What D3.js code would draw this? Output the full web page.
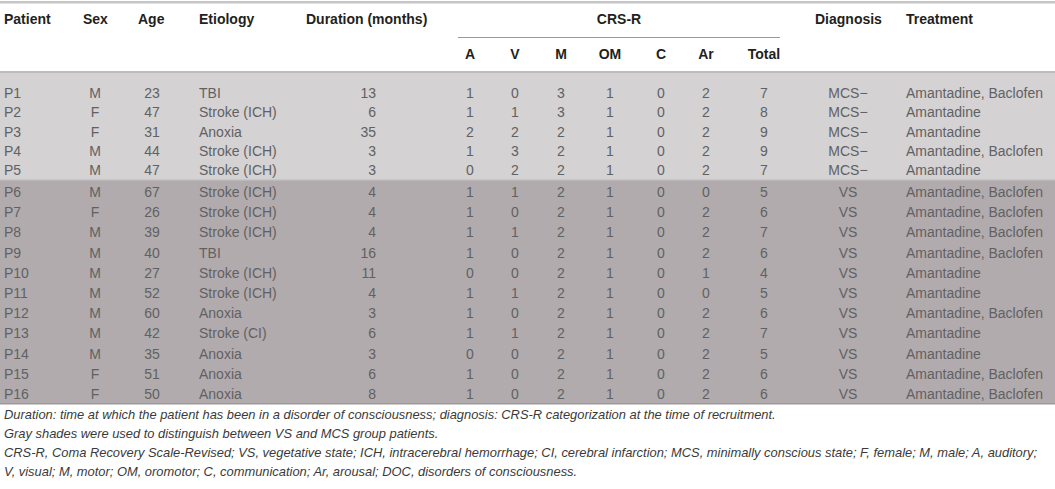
<!DOCTYPE html>
<html>
<head>
<meta charset="utf-8">
<script src="https://cdn.jsdelivr.net/npm/d3@7"></script>
<style>
  body { margin: 0; background: #fff; }
  svg text { font-family: "Liberation Sans", Arial, sans-serif; }
</style>
</head>
<body>
<div id="chart"></div>
<script>
const patients = ["P1","P2","P3","P4","P5","P6","P7","P8","P9","P10","P11","P12","P13","P14","P15","P16"];
const sex = ["M","F","F","M","M","M","F","M","M","M","M","M","M","M","F","F"];
const age = [23,47,31,44,47,67,26,39,40,27,52,60,42,35,51,50];
const etiology = ["TBI","Stroke (ICH)","Anoxia","Stroke (ICH)","Stroke (ICH)","Stroke (ICH)","Stroke (ICH)","Stroke (ICH)","TBI","Stroke (ICH)","Stroke (ICH)","Anoxia","Stroke (CI)","Anoxia","Anoxia","Anoxia"];
const duration = [13,6,35,3,3,4,4,4,16,11,4,3,6,3,6,8];
const crsA  = [1,1,2,1,0,1,1,1,1,0,1,1,1,0,1,1];
const crsV  = [0,1,2,3,2,1,0,1,0,0,1,0,1,0,0,0];
const crsM  = [3,3,2,2,2,2,2,2,2,2,2,2,2,2,2,2];
const crsOM = [1,1,1,1,1,1,1,1,1,1,1,1,1,1,1,1];
const crsC  = [0,0,0,0,0,0,0,0,0,0,0,0,0,0,0,0];
const crsAr = [2,2,2,2,2,0,2,2,2,1,0,2,2,2,2,2];
const total = [7,8,9,9,7,5,6,7,6,4,5,6,7,5,6,6];
const diagnosis = ["MCS\u2212","MCS\u2212","MCS\u2212","MCS\u2212","MCS\u2212","VS","VS","VS","VS","VS","VS","VS","VS","VS","VS","VS"];
const treatment = ["Amantadine, Baclofen","Amantadine","Amantadine","Amantadine, Baclofen","Amantadine","Amantadine, Baclofen","Amantadine, Baclofen","Amantadine, Baclofen","Amantadine, Baclofen","Amantadine","Amantadine","Amantadine, Baclofen","Amantadine","Amantadine","Amantadine, Baclofen","Amantadine, Baclofen"];
const footnotes = [
  "Duration: time at which the patient has been in a disorder of consciousness; diagnosis: CRS-R categorization at the time of recruitment.",
  "Gray shades were used to distinguish between VS and MCS group patients.",
  "CRS-R, Coma Recovery Scale-Revised; VS, vegetative state; ICH, intracerebral hemorrhage; CI, cerebral infarction; MCS, minimally conscious state; F, female; M, male; A, auditory;",
  "V, visual; M, motor; OM, oromotor; C, communication; Ar, arousal; DOC, disorders of consciousness."
];

const width = 1055, height = 489;

const svg = d3.select("#chart").append("svg")
    .attr("width", width)
    .attr("height", height);

// columns: header label, values, x position, anchor
const columns = [
  {head: "Patient", values: patients, x: 4, anchor: "start", hx: 4},
  {head: "Sex", values: sex, x: 95, anchor: "middle", hx: 83},
  {head: "Age", values: age, x: 152, anchor: "middle", hx: 138},
  {head: "Etiology", values: etiology, x: 199, anchor: "start", hx: 199},
  {head: "Duration (months)", values: duration, x: 376, anchor: "end", hx: 306},
  {head: "Diagnosis", values: diagnosis, x: 848, anchor: "middle", hx: 815},
  {head: "Treatment", values: treatment, x: 906, anchor: "start", hx: 906}
];
const crsCols = [
  {head: "A", values: crsA, x: 470},
  {head: "V", values: crsV, x: 515},
  {head: "M", values: crsM, x: 561},
  {head: "OM", values: crsOM, x: 610},
  {head: "C", values: crsC, x: 661},
  {head: "Ar", values: crsAr, x: 706},
  {head: "Total", values: total, x: 764}
];

// row positions: MCS block and VS block
const isMCS = d => diagnosis[d].startsWith("MCS");
const idx = d3.range(patients.length);
const mcsIdx = idx.filter(isMCS), vsIdx = idx.filter(d => !isMCS(d));
const yMCS = d3.scalePoint().domain(mcsIdx).range([93, 170]);
const yVS = d3.scalePoint().domain(vsIdx).range([192, 394]);
const y = i => isMCS(i) ? yMCS(i) : yVS(i);

// bands
svg.append("rect").attr("x", 0).attr("y", 73).attr("width", width).attr("height", 107).attr("fill", "#d4d2d3");
svg.append("rect").attr("x", 0).attr("y", 180).attr("width", width).attr("height", 224).attr("fill", "#b1abad");

// rules
svg.append("rect").attr("x", 0).attr("y", 1).attr("width", width).attr("height", 2.5).attr("fill", "#c6c6c6");
svg.append("rect").attr("x", 0).attr("y", 71).attr("width", width).attr("height", 2).attr("fill", "#bdbdbd");
svg.append("rect").attr("x", 0).attr("y", 179).attr("width", width).attr("height", 1.5).attr("fill", "#c8c6c7");
svg.append("rect").attr("x", 0).attr("y", 403).attr("width", width).attr("height", 1.5).attr("fill", "#9a9a9a");
svg.append("line").attr("x1", 458).attr("x2", 780).attr("y1", 37.5).attr("y2", 37.5)
    .attr("stroke", "#9a9a9a").attr("stroke-width", 1);

// headers
const head = svg.append("g").attr("font-weight", "bold").attr("font-size", 14).attr("fill", "#231f20");
head.selectAll("text.h1").data(columns).join("text")
    .attr("x", d => d.hx).attr("y", 24)
    .text(d => d.head);
head.append("text").attr("x", (458 + 780) / 2).attr("y", 24).attr("text-anchor", "middle").text("CRS-R");
head.selectAll("text.h2").data(crsCols).join("text")
    .attr("x", d => d.x).attr("y", 59)
    .attr("text-anchor", "middle")
    .text(d => d.head);

// body cells
const body = svg.append("g").attr("font-size", 14).attr("fill", "#616163");
columns.concat(crsCols.map(c => ({...c, anchor: "middle"}))).forEach(col => {
  body.append("g").selectAll("text").data(col.values).join("text")
      .attr("x", col.x)
      .attr("y", (d, i) => y(i))
      .attr("dy", "0.36em")
      .attr("text-anchor", col.anchor)
      .text(d => d);
});

// footnotes
svg.append("g").attr("font-size", 12.9).attr("font-style", "italic").attr("fill", "#3a3a3a")
  .selectAll("text").data(footnotes).join("text")
    .attr("x", 4)
    .attr("y", (d, i) => 419 + i * 19)
    .text(d => d);
</script>
</body>
</html>
